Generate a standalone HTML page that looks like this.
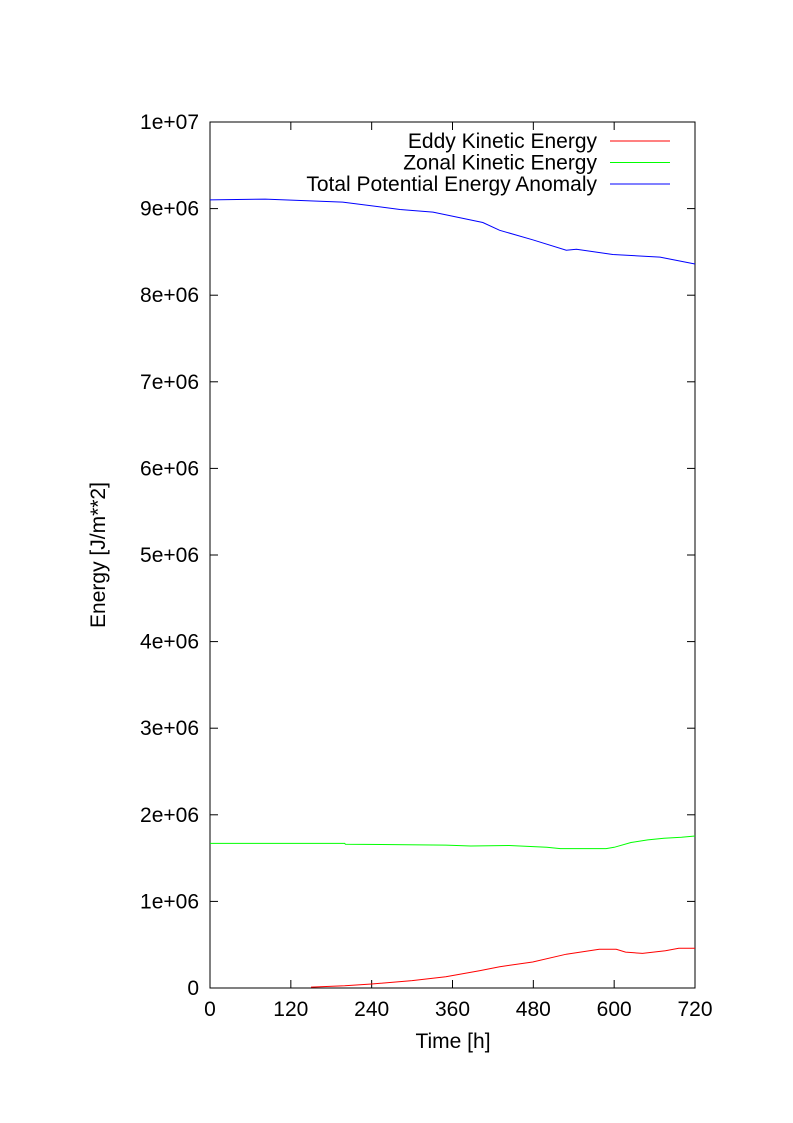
<!DOCTYPE html>
<html><head><meta charset="utf-8"><style>
html,body{margin:0;padding:0;background:#fff;}
svg{display:block;font-family:"Liberation Sans",sans-serif;}
</style></head><body>
<svg id="chart" width="793" height="1123" viewBox="0 0 793 1123" xmlns="http://www.w3.org/2000/svg">
<rect width="793" height="1123" fill="#fff"/>
<g id="axes"></g>
<g id="series"></g>
<g id="legend"></g>
<text x="0" y="0" font-size="21" text-anchor="middle" transform="translate(105,555) rotate(-90)">Energy [J/m**2]</text>
<text x="453" y="1048" font-size="21" text-anchor="middle">Time [h]</text>
</svg>
<script>
const xTicks = [0,120,240,360,480,600,720];
const yTicks = [0,1e6,2e6,3e6,4e6,5e6,6e6,7e6,8e6,9e6,1e7];
const yTickLabels = ["0","1e+06","2e+06","3e+06","4e+06","5e+06","6e+06","7e+06","8e+06","9e+06","1e+07"];
const seriesNames = ["Eddy Kinetic Energy","Zonal Kinetic Energy","Total Potential Energy Anomaly"];
const seriesColors = ["#ff0000","#00ff00","#0000ff"];
const eddyT = [150,200,240,300,350,400,430,479,529,578,603,617,642,676,696,720];
const eddyV = [0.01e6,0.025e6,0.046e6,0.085e6,0.13e6,0.2e6,0.246e6,0.30e6,0.39e6,0.447e6,0.447e6,0.415e6,0.40e6,0.43e6,0.458e6,0.46e6];
const zonalT = [0,200,201,350,387,444,500,520,588,600,625,650,674,700,720];
const zonalV = [1.67e6,1.67e6,1.66e6,1.65e6,1.64e6,1.645e6,1.625e6,1.61e6,1.61e6,1.625e6,1.68e6,1.71e6,1.73e6,1.74e6,1.755e6];
const potT = [0,82,197,282,331,405,430,479,529,544,598,668,720];
const potV = [9.10e6,9.11e6,9.075e6,8.99e6,8.96e6,8.84e6,8.75e6,8.64e6,8.52e6,8.53e6,8.47e6,8.44e6,8.36e6];

const X0=210,X1=695,Y0=988,Y1=122;
const xs=t=>X0+(t-0)/(720-0)*(X1-X0);
const ys=v=>Y0-(v-0)/(1e7-0)*(Y0-Y1);
const NS="http://www.w3.org/2000/svg";
function mk(tag,attrs,parent){const e=document.createElementNS(NS,tag);for(const k in attrs)e.setAttribute(k,attrs[k]);parent.appendChild(e);return e;}
const axes=document.getElementById('axes');
const frame=mk('rect',{x:X0,y:Y1,width:X1-X0,height:Y0-Y1,fill:'none',stroke:'#000','stroke-width':1},axes);


xTicks.forEach((t,i)=>{
  const x=xs(t);
  const a=mk('line',{x1:x,y1:Y0,x2:x,y2:Y0-8,stroke:'#000'},axes);
  
  
  const b=mk('line',{x1:x,y1:Y1,x2:x,y2:Y1+8,stroke:'#000'},axes);
  
  
  const tx=mk('text',{x:x,y:Y0+28,'font-size':21,'text-anchor':'middle'},axes);
  tx.textContent=String(t);
  
  
});
yTicks.forEach((v,i)=>{
  const y=ys(v);
  const a=mk('line',{x1:X0,y1:y,x2:X0+8,y2:y,stroke:'#000'},axes);
  
  
  const b=mk('line',{x1:X1,y1:y,x2:X1-8,y2:y,stroke:'#000'},axes);
  
  
  const tx=mk('text',{x:X0-11,y:y+7,'font-size':21,'text-anchor':'end'},axes);
  tx.textContent=yTickLabels[i];
  
  
});
const sg=document.getElementById('series');
const data=[[eddyT,eddyV],[zonalT,zonalV],[potT,potV]];
const snames=['eddy-kinetic-line','zonal-kinetic-line','potential-energy-line'];
data.forEach((d,i)=>{
  const pts=d[0].map((t,j)=>xs(t).toFixed(1)+','+ys(d[1][j]).toFixed(1)).join(' ');
  const p=mk('polyline',{points:pts,fill:'none',stroke:seriesColors[i],'stroke-width':1},sg);
  
  
});
const lg=document.getElementById('legend');
seriesNames.forEach((n,i)=>{
  const y=141+i*21.5;
  const tx=mk('text',{x:597,y:y+7,'font-size':21,'text-anchor':'end'},lg);
  tx.textContent=n;
  
  
  const l=mk('line',{x1:610,y1:y,x2:670,y2:y,stroke:seriesColors[i]},lg);
  
  
});
</script>
</body></html>
